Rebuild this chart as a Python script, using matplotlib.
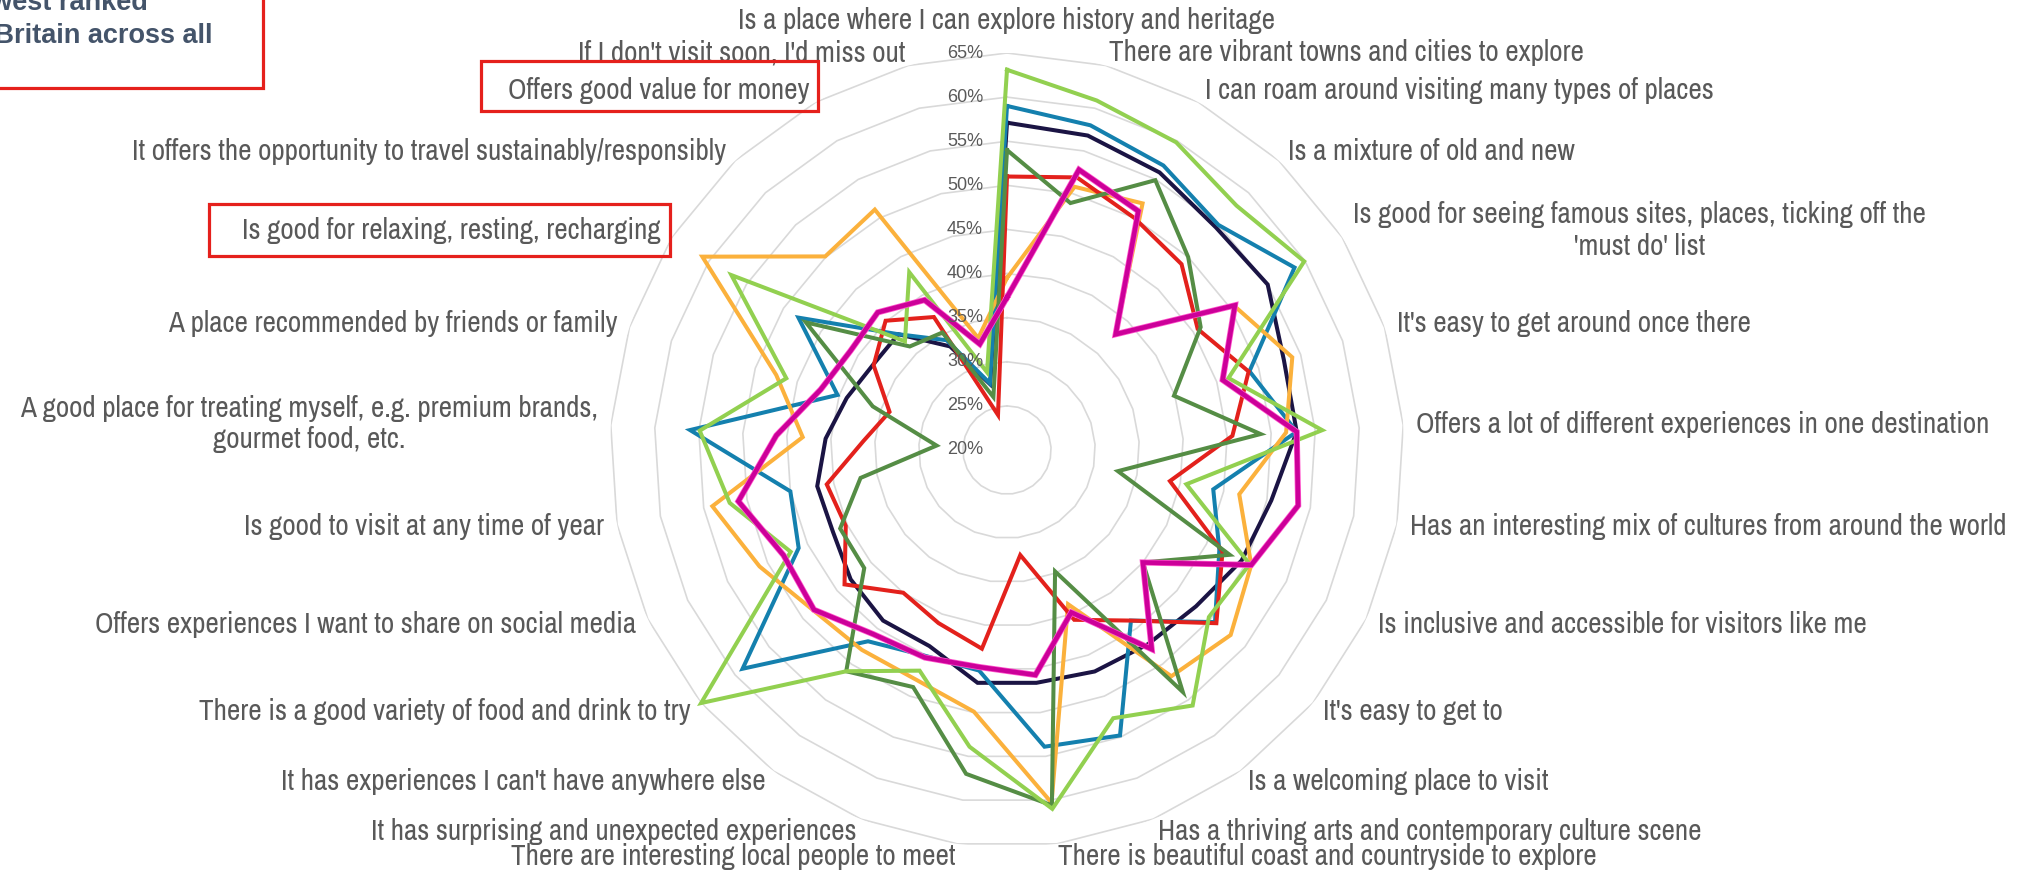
import numpy as np
import matplotlib.pyplot as plt
from matplotlib import transforms
from matplotlib.patches import Rectangle

# Category labels, clockwise from the top
categories = [
    "Is a place where I can explore history and heritage",
    "There are vibrant towns and cities to explore",
    "I can roam around visiting many types of places",
    "Is a mixture of old and new",
    "Is good for seeing famous sites, places, ticking off the\n'must do' list",
    "It's easy to get around once there",
    "Offers a lot of different experiences in one destination",
    "Has an interesting mix of cultures from around the world",
    "Is inclusive and accessible for visitors like me",
    "It's easy to get to",
    "Is a welcoming place to visit",
    "Has a thriving arts and contemporary culture scene",
    "There is beautiful coast and countryside to explore",
    "There are interesting local people to meet",
    "It has surprising and unexpected experiences",
    "It has experiences I can't have anywhere else",
    "There is a good variety of food and drink to try",
    "Offers experiences I want to share on social media",
    "Is good to visit at any time of year",
    "A good place for treating myself, e.g. premium brands,\ngourmet food, etc.",
    "A place recommended by friends or family",
    "Is good for relaxing, resting, recharging",
    "It offers the opportunity to travel sustainably/responsibly",
    "Offers good value for money",
    "If I don't visit soon, I'd miss out",
]

# Values in % per series
series_navy = [57.1, 56.8, 55.9, 54.6, 55.0, 53.0, 52.9, 50.5, 49.4, 47.8, 47.2, 47.0, 46.6,
               46.6, 43.9, 43.9, 43.0, 41.8, 41.9, 40.6, 39.1, 38.0, 38.0, 33.4, 27.7]
series_blue = [59.0, 58.0, 56.8, 55.0, 58.6, 48.9, 52.9, 43.8, 46.6, 50.6, 43.9, 54.8, 53.9,
               45.2, 45.1, 46.8, 58.9, 46.1, 45.0, 56.0, 40.2, 48.0, 38.0, 34.2, 27.8]
series_orange = [39.5, 50.8, 51.9, 38.0, 50.5, 54.0, 51.7, 46.8, 50.6, 52.9, 51.7, 38.8, 60.3,
                 49.9, 48.0, 48.0, 48.5, 51.0, 54.0, 43.2, 47.5, 60.9, 50.1, 51.1, 33.1]
series_red = [51.0, 51.9, 50.0, 48.9, 45.6, 48.8, 45.6, 38.8, 47.0, 50.8, 43.9, 40.7, 32.0,
              42.7, 41.1, 40.0, 43.9, 40.2, 40.8, 36.3, 34.0, 37.9, 40.1, 37.2, 24.1]
series_darkgreen = [54.0, 48.9, 54.9, 50.0, 46.0, 39.9, 48.8, 32.8, 47.9, 40.0, 53.9, 34.8, 60.6,
                    57.0, 48.9, 51.0, 41.0, 40.9, 36.9, 28.0, 36.0, 47.0, 36.1, 35.2, 26.2]
series_lightgreen = [63.1, 60.9, 59.8, 58.0, 59.9, 46.4, 55.8, 40.7, 50.4, 49.7, 55.8, 52.7, 61.0,
                     53.9, 46.9, 51.0, 65.0, 47.1, 52.0, 54.9, 46.3, 57.0, 36.9, 43.0, 29.1]
series_magenta = [37.3, 52.8, 50.9, 38.0, 50.6, 45.7, 52.9, 53.6, 50.6, 40.0, 47.9, 39.8, 45.7,
                  44.8, 45.3, 45.8, 48.4, 48.0, 51.0, 46.2, 42.2, 41.0, 41.4, 39.4, 32.4]

rings = [25, 30, 35, 40, 45, 50, 55, 60, 65]
tick_labels = ["20%", "25%", "30%", "35%", "40%", "45%", "50%", "55%", "60%", "65%"]

label_font = ["Archivo Narrow", "Liberation Sans"]

W, H = 2028, 873
fig = plt.figure(figsize=(W / 100, H / 100), dpi=100)
ax = fig.add_axes([610 / W, 26 / H, 794 / W, 794 / H], projection="polar")
ax.set_theta_zero_location("N")
ax.set_theta_direction(-1)
ax.set_ylim(20, 65)
ax.grid(False)
ax.set_xticks([])
ax.set_yticks([])
ax.spines["polar"].set_visible(False)
ax.patch.set_alpha(0)

n = len(categories)
theta = np.arange(n) * 2 * np.pi / n
theta_c = np.append(theta, theta[0])

# polygon gridlines
for lvl in rings:
    ax.plot(theta_c, [lvl] * (n + 1), color="#d9d9d9", lw=1.2, zorder=1)

series = [
    (series_navy, "#1b1444"),
    (series_blue, "#1480ae"),
    (series_orange, "#fbb13c"),
    (series_red, "#e3211c"),
    (series_darkgreen, "#558d45"),
    (series_lightgreen, "#92d050"),
]
for vals, col in series:
    ax.plot(theta_c, vals + vals[:1], color=col, lw=2.9, zorder=3,
            solid_joinstyle="miter", clip_on=False)
ax.plot(theta_c, series_magenta + series_magenta[:1], color="#ff55cc", lw=4.4, zorder=4,
        solid_joinstyle="miter", clip_on=False)
ax.plot(theta_c, series_magenta + series_magenta[:1], color="#cc0099", lw=3.3, zorder=5,
        solid_joinstyle="miter", clip_on=False)

# radial tick labels along the top spoke
off = transforms.offset_copy(ax.transData, fig=fig, x=-24, y=0, units="dots")
for v, lab in zip([20] + rings, tick_labels):
    ax.text(0, v, lab, transform=off, ha="right", va="center", fontsize=13,
            color="#595959", family="Liberation Sans", zorder=6)

# category labels
px_per_unit = 397 / 45
for i, lab in enumerate(categories):
    s = np.sin(theta[i])
    if abs(s) < 0.01:
        ha = "center"
        r = 20 + 430 / px_per_unit
    else:
        ha = "left" if s > 0 else "right"
        r = 20 + 410 / px_per_unit
    ax.text(theta[i], r, lab, ha=ha, va="center", multialignment="center",
            fontsize=21, color="#595959", family=label_font, clip_on=False)

# red highlight boxes
def px_box(x0, y0, x1, y1):
    return Rectangle((x0 / W, 1 - y1 / H), (x1 - x0) / W, (y1 - y0) / H,
                     transform=fig.transFigure, fill=False, ec="#e5201c", lw=2.3,
                     clip_on=False)

fig.patches.append(px_box(481, 61, 818, 111))
fig.patches.append(px_box(209, 204, 670, 256))
fig.patches.append(px_box(-10, -10, 263, 88))

fig.text(148 / W, 1 - 10 / H, "Lowest ranked", ha="right", va="baseline", fontsize=19.5,
         fontweight="bold", color="#44546a", family="Liberation Sans")
fig.text(213 / W, 1 - 43 / H, "Great Britain across all", ha="right", va="baseline",
         fontsize=19.5, fontweight="bold", color="#44546a", family="Liberation Sans")

fig.savefig("out.png", dpi=100, facecolor="white")
